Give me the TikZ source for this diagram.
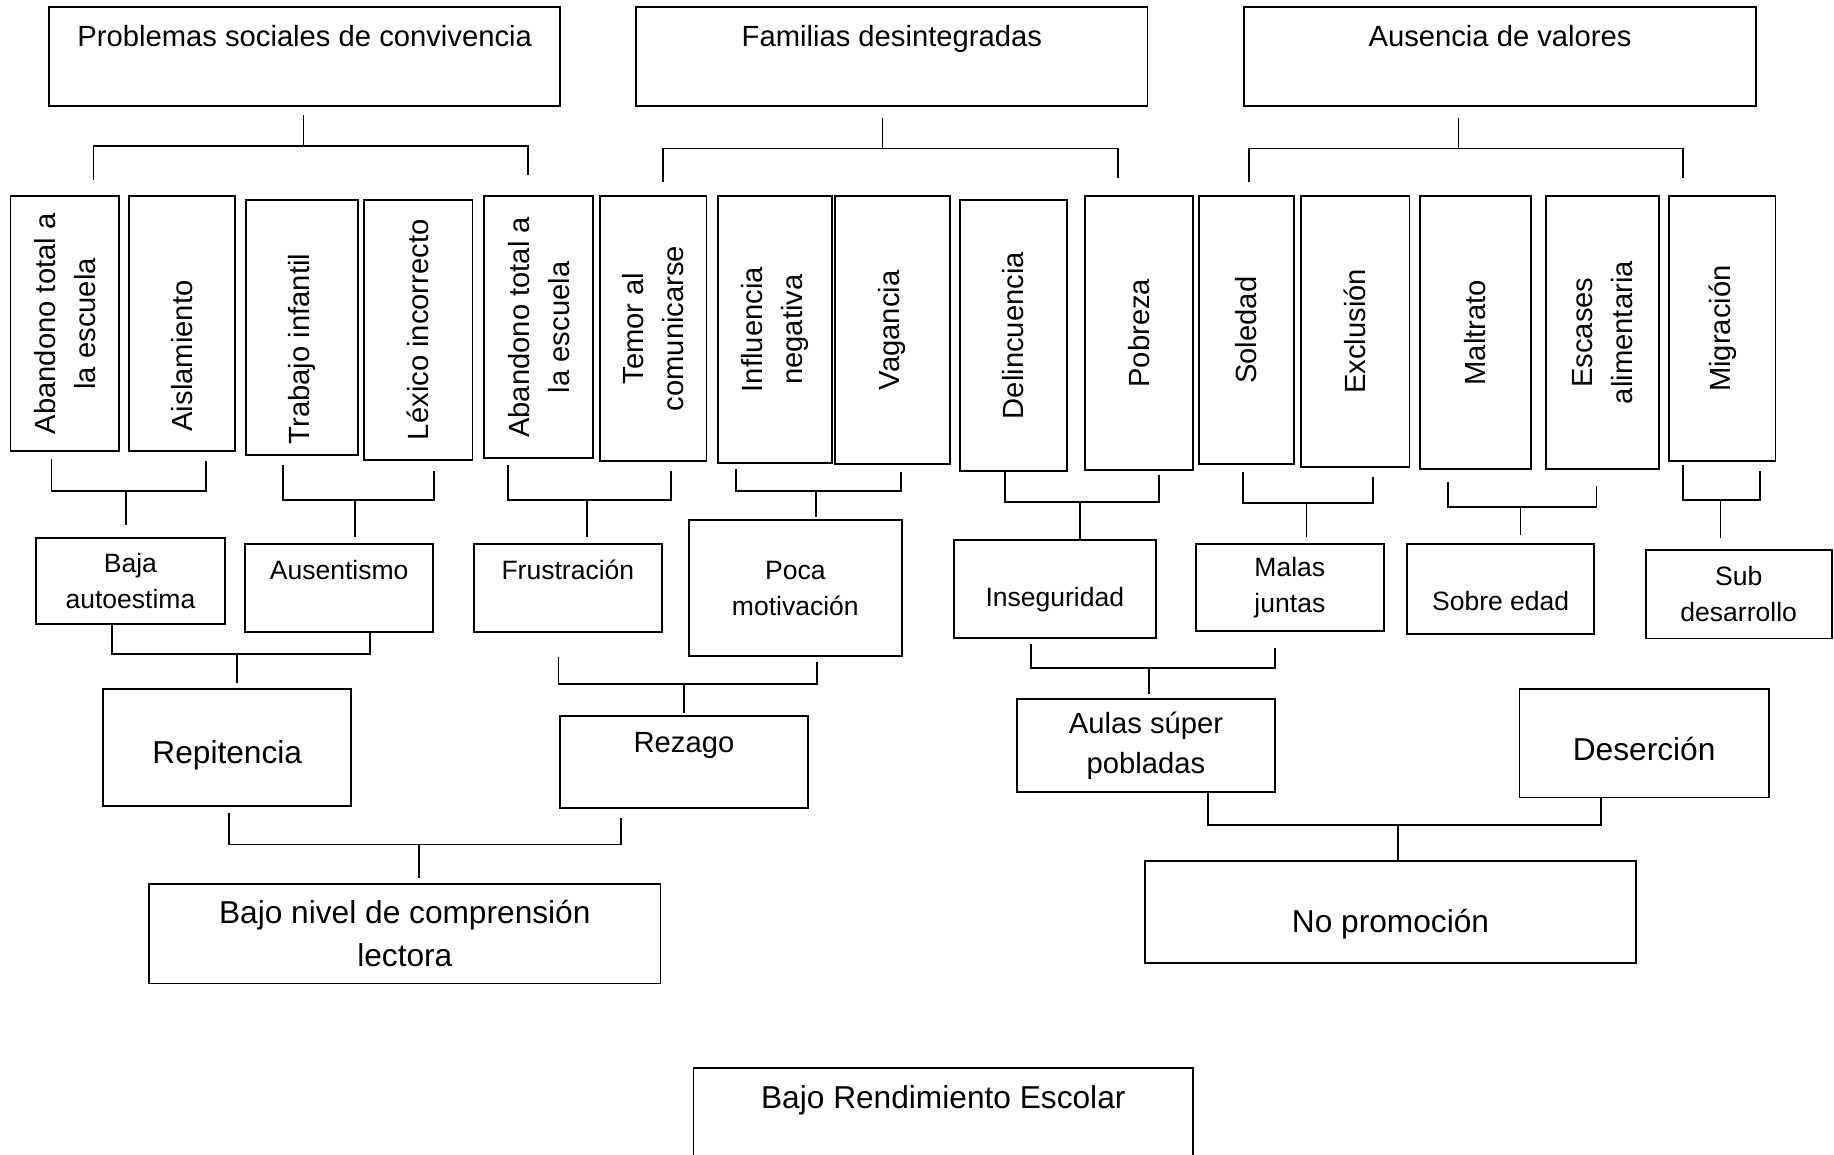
\documentclass[tikz,border=0pt]{standalone}
\usepackage{fontspec}
\setmainfont{Liberation Sans}
\usetikzlibrary{calc}

\newcommand{\txtsmall}{\fontsize{6.45}{8.8}\selectfont}
\newcommand{\txtnorm}{\fontsize{7.1}{9.7}\selectfont}
\newcommand{\txtbig}{\fontsize{7.7}{10.4}\selectfont}

\tikzset{
      box/.style  = { draw, line width=0.45pt, inner sep=0pt, align=center, anchor=north },
      vbox/.style = { box, rotate=90, anchor=east, font=\txtnorm },
      conn/.style = { line width=0.45pt }
    }

\begin{document}
\begin{tikzpicture}[x=0.01cm, y=-0.01cm]
      \useasboundingbox (0,0) rectangle (1568,987);
      \clip (0,0) rectangle (1568,987);

      % Top causes
      \node[box, font=\txtnorm, minimum width=4.37cm, text height=0.34cm, text depth=0.51cm] (prob) at (260.5,5) {Problemas sociales de convivencia};
      \node[box, font=\txtnorm, minimum width=4.37cm, text height=0.34cm, text depth=0.51cm] (fam)  at (762.5,5) {Familias desintegradas};
      \node[box, font=\txtnorm, minimum width=4.37cm, text height=0.34cm, text depth=0.51cm] (aus)  at (1282.5,5) {Ausencia de valores};

      % Vertical boxes
      \node[vbox, minimum width=2.18cm, minimum height=0.93cm] (v1)  at (55.5,167)   {Abandono total a\\la escuela};
      \node[vbox, minimum width=2.18cm, minimum height=0.91cm] (v2)  at (155.5,167)  {Aislamiento\hspace*{0.55cm}};
      \node[vbox, minimum width=2.18cm, minimum height=0.96cm] (v3)  at (258,170)    {Trabajo infantil\hspace*{0.37cm}};
      \node[vbox, minimum width=2.22cm, minimum height=0.93cm] (v4)  at (357.5,170)  {Léxico incorrecto};
      \node[vbox, minimum width=2.24cm, minimum height=0.93cm] (v5)  at (460.5,167)  {Abandono total a\\la escuela};
      \node[vbox, minimum width=2.26cm, minimum height=0.91cm] (v6)  at (558.5,167)  {Temor al\\comunicarse};
      \node[vbox, minimum width=2.28cm, minimum height=0.97cm] (v7)  at (662.5,167)  {Influencia\\negativa};
      \node[vbox, minimum width=2.29cm, minimum height=0.98cm] (v8)  at (763,167)    {Vagancia};
      \node[vbox, minimum width=2.32cm, minimum height=0.91cm] (v9)  at (866.5,170)  {Delincuencia};
      \node[vbox, minimum width=2.34cm, minimum height=0.92cm] (v10) at (974,167)    {Pobreza};
      \node[vbox, minimum width=2.29cm, minimum height=0.81cm] (v11) at (1065.5,167) {Soledad};
      \node[vbox, minimum width=2.31cm, minimum height=0.93cm] (v12) at (1158.5,167) {Exclusión};
      \node[vbox, minimum width=2.33cm, minimum height=0.95cm] (v13) at (1261.5,167) {Maltrato};
      \node[vbox, minimum width=2.33cm, minimum height=0.96cm] (v14) at (1370,167)   {Escases\\alimentaria};
      \node[vbox, minimum width=2.26cm, minimum height=0.91cm] (v15) at (1472.5,167) {Migración};

      % Second row
      \node[box, font=\txtsmall, minimum width=1.61cm, minimum height=0.74cm] (baja) at (111.5,459) {Baja\\autoestima};
      \node[box, font=\txtsmall, minimum width=1.61cm, text height=0.305cm, text depth=0.45cm] (ausent) at (290,464) {Ausentismo};
      \node[box, font=\txtsmall, minimum width=1.61cm, text height=0.305cm, text depth=0.45cm] (frust) at (485.5,464) {Frustración};
      \node[box, font=\txtsmall, minimum width=1.82cm, minimum height=1.16cm] (poca) at (680,444) {Poca\\motivación};
      \node[box, font=\txtsmall, minimum width=1.73cm, text height=0.57cm, text depth=0.265cm] (inseg) at (901.85,461) {Inseguridad};
      \node[box, font=\txtsmall, minimum width=1.61cm, minimum height=0.75cm] (malas) at (1102.8,464) {Malas\\juntas};
      \node[box, font=\txtsmall, minimum width=1.595cm, text height=0.57cm, text depth=0.205cm] (sobre) at (1283,464) {Sobre edad};
      \node[box, font=\txtsmall, minimum width=1.59cm, minimum height=0.754cm] (subd) at (1486.5,469.6) {Sub\\desarrollo};

      % Third row
      \node[box, font=\txtbig, minimum width=2.12cm, text height=0.635cm, text depth=0.363cm] (repit) at (194.3,588.5) {Repitencia};
      \node[box, font=\txtnorm, minimum width=2.125cm, text height=0.314cm, text depth=0.475cm] (rezago) at (584.75,611.3) {Rezago};
      \node[box, font=\txtnorm, minimum width=2.21cm, minimum height=0.79cm] (aulas) at (979.8,597) {Aulas súper\\pobladas};
      \node[box, font=\txtbig, minimum width=2.13cm, text height=0.607cm, text depth=0.318cm] (deser) at (1405.7,588.5) {Deserción};

      % Effects
      \node[box, font=\txtbig, minimum width=4.37cm, minimum height=0.85cm] (bajon) at (346.1,755) {Bajo nivel de comprensión\\lectora};
      \node[box, font=\txtbig, minimum width=4.19cm, text height=0.613cm, text depth=0.256cm] (nopro) at (1188.85,735.3) {No promoción};
      \node[box, font=\txtbig, minimum width=4.27cm, text height=0.348cm, text depth=0.6cm] (bre) at (806.5,912) {Bajo Rendimiento Escolar};

      % Top brackets
      \coordinate (jp) at (259.5,125);
      \coordinate (jf) at (754.5,127);
      \coordinate (ja) at (1247,127);
      \draw[conn] ([shift={(-1,6.5)}]prob.south) -- (jp);
      \draw[conn] ([shift={(24.5,-13)}]v1.east) |- (jp) -| ([shift={(-9,-17.5)}]v5.east);
      \draw[conn] ([shift={(-8,9)}]fam.south) -- (jf);
      \draw[conn] ([shift={(8.5,-11)}]v6.east) |- (jf) -| ([shift={(-18,-15)}]v10.east);
      \draw[conn] ([shift={(-35.5,9)}]aus.south) -- (ja);
      \draw[conn] ([shift={(2.5,-11)}]v11.east) |- (ja) -| ([shift={(-33.5,-15)}]v15.east);

      % Vertical boxes to second row
      \coordinate (j1) at (107.5,419.5);
      \coordinate (j2) at (303.5,427.5);
      \coordinate (j3) at (501.5,427.5);
      \coordinate (j4) at (697.5,420);
      \coordinate (j5) at (923,429.5);
      \coordinate (j6) at (1117,430);
      \coordinate (j7) at (1300,433.5);
      \coordinate (j8) at (1471,427.5);
      \draw[conn] ([shift={(-11.5,6)}]v1.west) |- (j1) -| ([shift={(20.5,7)}]v2.west);
      \draw[conn] (j1) -- ($(j1 |- baja.north)+(0,-10)$);
      \draw[conn] ([shift={(-16,8)}]v3.west) |- (j2) -| ([shift={(13.5,9)}]v4.west);
      \draw[conn] (j2) -- ($(j2 |- ausent.north)+(0,-5)$);
      \draw[conn] ([shift={(-26.5,5)}]v5.west) |- (j3) -| ([shift={(15,8)}]v6.west);
      \draw[conn] (j3) -- ($(j3 |- frust.north)+(0,-5)$);
      \draw[conn] ([shift={(-33,4)}]v7.west) |- (j4) -| ([shift={(7,6)}]v8.west);
      \draw[conn] (j4) -- ($(j4 |- poca.north)+(0,-2)$);
      \draw[conn] ([shift={(-7,0)}]v9.west) |- (j5) -| ([shift={(17,3)}]v10.west);
      \draw[conn] (j5) -- (j5 |- inseg.north);
      \draw[conn] ([shift={(-2.5,6)}]v11.west) |- (j6) -| ([shift={(15.5,8)}]v12.west);
      \draw[conn] (j6) -- ($(j6 |- malas.north)+(0,-5)$);
      \draw[conn] ([shift={(-23.5,10)}]v13.west) |- (j7) -| ([shift={(-5,14)}]v14.west);
      \draw[conn] (j7) -- ($(j7 |- sobre.north)+(0,-7)$);
      \draw[conn] ([shift={(-33.5,3)}]v15.west) |- (j8) -| ([shift={(32.5,8)}]v15.west);
      \draw[conn] (j8) -- ($(j8 |- subd.north)+(0,-10)$);

      % Second row to third row
      \coordinate (j9)  at (202.7,559);
      \coordinate (j10) at (584.6,585);
      \coordinate (j12) at (982.5,571);
      \draw[conn] ([xshift=-0.16cm]baja.south) |- (j9) -| ([xshift=0.266cm]ausent.south);
      \draw[conn] (j9) -- ($(j9 |- repit.north)+(0,-4.5)$);
      \draw[conn] ([shift={(-8,21)}]frust.south) |- (j10) -| ([shift={(18.4,4)}]poca.south);
      \draw[conn] (j10) -- ($(j10 |- rezago.north)+(0,-1.5)$);
      \draw[conn] ([shift={(-20.35,4.5)}]inseg.south) |- (j12) -| ([shift={(-12.8,13.4)}]malas.south);
      \draw[conn] (j12) -- ($(j12 |- aulas.north)+(0,-4)$);

      % Third row to effects
      \coordinate (j11) at (358.3,722);
      \coordinate (j13) at (1195,705.4);
      \draw[conn] ([shift={(1.5,5)}]repit.south) |- (j11) -| ([shift={(-53.75,7.5)}]rezago.south);
      \draw[conn] (j11) -- ($(j11 |- bajon.north)+(0,-4)$);
      \draw[conn] ([xshift=0.532cm]aulas.south) |- (j13) -| ([xshift=-0.367cm]deser.south);
      \draw[conn] (j13) -- (j13 |- nopro.north);
\end{tikzpicture}
\end{document}
